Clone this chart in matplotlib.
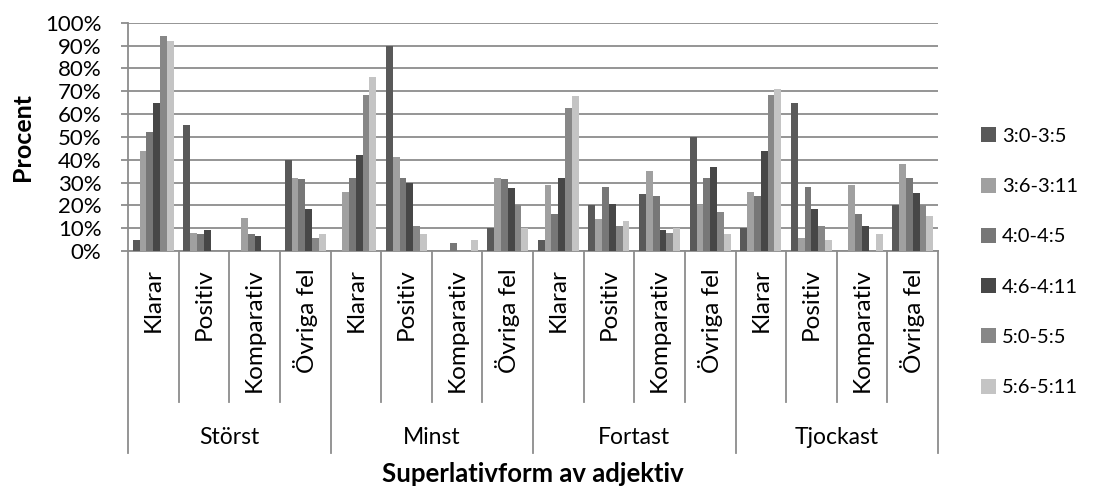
import matplotlib
matplotlib.use("Agg")
import matplotlib.pyplot as plt
import numpy as np
from matplotlib.patches import Rectangle

plt.rcParams['font.family'] = ['Lato', 'DejaVu Sans']

groups = ["Störst", "Minst", "Fortast", "Tjockast"]
categories = ["Klarar", "Positiv", "Komparativ", "Övriga fel"]
series_names = ["3:0-3:5", "3:6-3:11", "4:0-4:5", "4:6-4:11", "5:0-5:5", "5:6-5:11"]

# values per series, 16 categories (group x category)
s_30_35 = [5, 55, 0, 40,   0, 90, 0, 10,   5, 20, 25, 50,   10, 65, 0, 20]
s_36_311 = [44, 8, 14.5, 32,   26, 41, 0, 32,   29, 14, 35, 20,   26, 5.5, 29, 38]
s_40_45 = [52, 7.5, 7.5, 31.5,   32, 32, 3.5, 31.5,   16, 28, 24, 32,   24, 28, 16, 32]
s_46_411 = [65, 9, 6.5, 18.5,   42, 30, 0, 27.5,   32, 20.5, 9, 37,   44, 18.5, 11, 25.5]
s_50_55 = [94, 0, 0, 5.5,   68.5, 11, 0, 20,   62.5, 11, 8, 17,   68.5, 11, 0, 20]
s_56_511 = [92, 0, 0, 7.5,   76, 7.5, 5, 10,   68, 13, 10, 7.5,   71, 5, 7.5, 15.5]

series = [s_30_35, s_36_311, s_40_45, s_46_411, s_50_55, s_56_511]
colors = ["#595959", "#a0a0a0", "#777777", "#474747", "#878787", "#c4c4c4"]

W, H = 1097, 486
fig = plt.figure(figsize=(W / 100, H / 100), dpi=100)
ax_l, ax_r, ax_t, ax_b = 128, 938, 22.7, 251
ax = fig.add_axes([ax_l / W, 1 - ax_b / H, (ax_r - ax_l) / W, (ax_b - ax_t) / H])

n_cat = len(groups) * len(categories)
x = np.arange(n_cat)
bw = 0.135
for i, (vals, c, name) in enumerate(zip(series, colors, series_names)):
    ax.bar(x + (i - 2.5) * bw, np.array(vals) / 100.0, width=bw, color=c,
           label=name, linewidth=0, zorder=3)

ax.set_xlim(-0.5, n_cat - 0.5)
ax.set_ylim(0, 1)
ax.set_yticks(np.arange(0, 1.01, 0.1))
ax.set_yticklabels([f"{int(round(v * 100))}%" for v in np.arange(0, 1.01, 0.1)])
grid_c = "#8c8c8c"
ax.yaxis.grid(True, color=grid_c, linewidth=1.3, zorder=0)
ax.set_axisbelow(True)
for s in ["top", "right"]:
    ax.spines[s].set_visible(False)
ax.spines["left"].set_color(grid_c)
ax.spines["left"].set_linewidth(1.3)
ax.spines["bottom"].set_color(grid_c)
ax.spines["bottom"].set_linewidth(1.3)
ax.tick_params(axis="y", direction="out", length=5, width=1.3, color=grid_c,
               labelsize=16, pad=14, labelcolor="#000000")
ax.set_xticks([])

# multi-level category axis
ah = ax_b - ax_t
def yfrac(py):
    return -(py - ax_b) / ah

trans = ax.get_xaxis_transform()
for k in range(n_cat + 1):
    xe = k - 0.5
    ybot = 453 if k % 4 == 0 else 402
    ax.plot([xe, xe], [0, yfrac(ybot)], color=grid_c, lw=1.3, transform=trans,
            clip_on=False)
for k in range(n_cat):
    ax.text(k, yfrac(268), categories[k % 4], rotation=90, ha="center", va="top",
            fontsize=17.5, transform=trans)
for g, name in enumerate(groups):
    ax.text(g * 4 + 1.5, yfrac(437), name, ha="center", va="center",
            fontsize=16.5, transform=trans)

fig.text((ax_l + ax_r) / 2 / W, 1 - 482 / H, "Superlativform av adjektiv",
         ha="center", va="baseline", fontsize=18.5, fontweight="bold")
fig.text(23 / W, 1 - 137 / H, "Procent", rotation=90, ha="center", va="center",
         fontsize=18, fontweight="bold")

# legend
for i, (c, name) in enumerate(zip(colors, series_names)):
    yc = 135 + 50.2 * i
    fig.add_artist(Rectangle((981 / W, 1 - (yc + 7.5) / H), 15 / W, 15 / H,
                             transform=fig.transFigure, facecolor=c,
                             edgecolor="none"))
    fig.text(1002 / W, 1 - yc / H, name, ha="left", va="center_baseline",
             fontsize=14.5)

fig.savefig("out.png", dpi=100)
